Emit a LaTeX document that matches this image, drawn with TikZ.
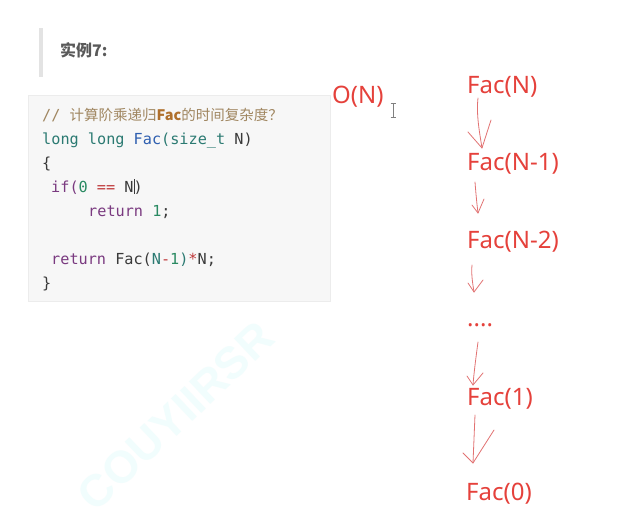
\documentclass[tikz,border=0pt]{standalone}
\usepackage{fontspec}
\setmainfont{Noto Sans}
\newfontfamily\cjk{Noto Sans CJK SC}
\newfontfamily\code{DejaVu Sans Mono}
\newfontfamily\wm{Liberation Sans}
\definecolor{ccom}{HTML}{A08660}
\definecolor{cfac}{HTML}{B0702C}
\definecolor{cteal}{HTML}{2B7A72}
\definecolor{cblue}{HTML}{2F5FB0}
\definecolor{cdark}{HTML}{3A3A3A}
\definecolor{cpur}{HTML}{7A3A80}
\definecolor{cgreen}{HTML}{2A8A62}
\definecolor{cred}{HTML}{C0393B}
\definecolor{hand}{HTML}{E5413B}
\definecolor{handarrow}{HTML}{E27272}
\definecolor{boxbg}{HTML}{F7F7F7}
\definecolor{boxline}{HTML}{ECECEC}
\definecolor{barc}{HTML}{E3E3E3}
\definecolor{headc}{HTML}{5A5A5A}
\definecolor{wmc}{HTML}{F1FDFD}
\newcommand\csz{\fontsize{15.2}{18}\selectfont}
\newcommand\cjsz{\fontsize{14.5}{17}\selectfont}
\tikzset{
  cd/.style={anchor=base west, inner sep=0pt, font=\code\csz, text=cdark},
  red/.style={anchor=base west, inner sep=0pt, font=\fontsize{24}{28}\selectfont, text=hand},
  harrow/.style={draw=handarrow, line width=0.8pt, line cap=round, line join=round},
}
\begin{document}
\begin{tikzpicture}[x=1pt,y=-1pt]
\useasboundingbox (0,0) rectangle (619,531);
\fill[white] (0,0) rectangle (619,531);
% watermark
\node[inner sep=0pt, rotate=43.5, text=wmc, font=\wm\bfseries\fontsize{45}{48}\selectfont] (wm) at (176,416) {COUYIIRSR};
% heading
\fill[barc] (39,28) rectangle (43,77);
\node[anchor=base west, inner sep=0pt, text=headc, font=\cjk\bfseries\fontsize{16}{19}\selectfont] (head) at (60,56) {实例7:};
% code box
\draw[fill=boxbg, draw=boxline] (28,95) rectangle (330,301);
\node[cd] (l1) at (42,120) {{\color{ccom}// }{\cjk\cjsz\color{ccom}计算阶乘递归{\bfseries\color{cfac}Fac}的时间复杂度？}};
\node[cd] (l2) at (42,144) {{\color{cteal}long long} {\color{cblue}Fac}{\color{cteal}(size\_t} N)};
\node[cd] (l3) at (42,168) {\{};
\node[cd] (l4) at (51,192) {{\color{cpur}if(}{\color{cgreen}0} {\color{cred}==} N)};
\node[cd] (l5) at (88,216) {{\color{cpur}return} {\color{cgreen}1};};
\node[cd] (l6) at (51,264) {{\color{cpur}return} Fac({\color{cteal}N}{\color{cred}-}{\color{cgreen}1}{\color{cteal})}{\color{cred}*}N;};
\node[cd] (l7) at (42,288) {\}};
% text cursor in code
\coordinate (cur1) at (134.5,179);
\coordinate (cur2) at (134.5,194);
\draw[cdark, line width=0.7pt] (cur1) -- (cur2);
% I-beam mouse cursor
\coordinate (ib1) at (393,103);
\coordinate (ib2) at (393,117);
\draw[gray, line width=0.9pt] (ib1) -- (ib2) (390.5,103) -- (395.5,103) (390.5,117) -- (395.5,117);
% handwritten labels
\node[red] (on) at (332,103) {O(N)};
\node[red] (f0) at (467,93) {Fac(N)};
\node[red] (f1) at (467,170) {Fac(N-1)};
\node[red] (f2) at (467,248) {Fac(N-2)};
\node[red] (fd) at (467,326) {....};
\node[red] (f3) at (467,405) {Fac(1)};
\node[red] (f4) at (466,500) {Fac(0)};
% arrows (hand drawn)
\coordinate (a1s) at (478,98);  \coordinate (a1t) at (482,148);
\draw[harrow] (a1s) .. controls (476,115) and (480,135) .. (a1t);
\draw[harrow] (468,132) -- (a1t) -- (491,120);
\coordinate (a2s) at (475,182); \coordinate (a2t) at (478,213);
\draw[harrow] (a2s) .. controls (476,195) and (477,205) .. (a2t);
\draw[harrow] (472,205) -- (a2t) -- (484,199);
\coordinate (a3s) at (472,265); \coordinate (a3t) at (474,292);
\draw[harrow] (a3s) .. controls (471,275) and (473,285) .. (a3t);
\draw[harrow] (468,283) -- (a3t) -- (483,280);
\coordinate (a4s) at (478,342); \coordinate (a4t) at (473,385);
\draw[harrow] (a4s) .. controls (476,357) and (474,372) .. (a4t);
\draw[harrow] (467,376) -- (a4t) -- (483,373);
\coordinate (a5s) at (475,415); \coordinate (a5t) at (473,463);
\draw[harrow] (a5s) -- (a5t);
\draw[harrow] (463,453) -- (a5t) -- (494,430);
\end{tikzpicture}
\end{document}
